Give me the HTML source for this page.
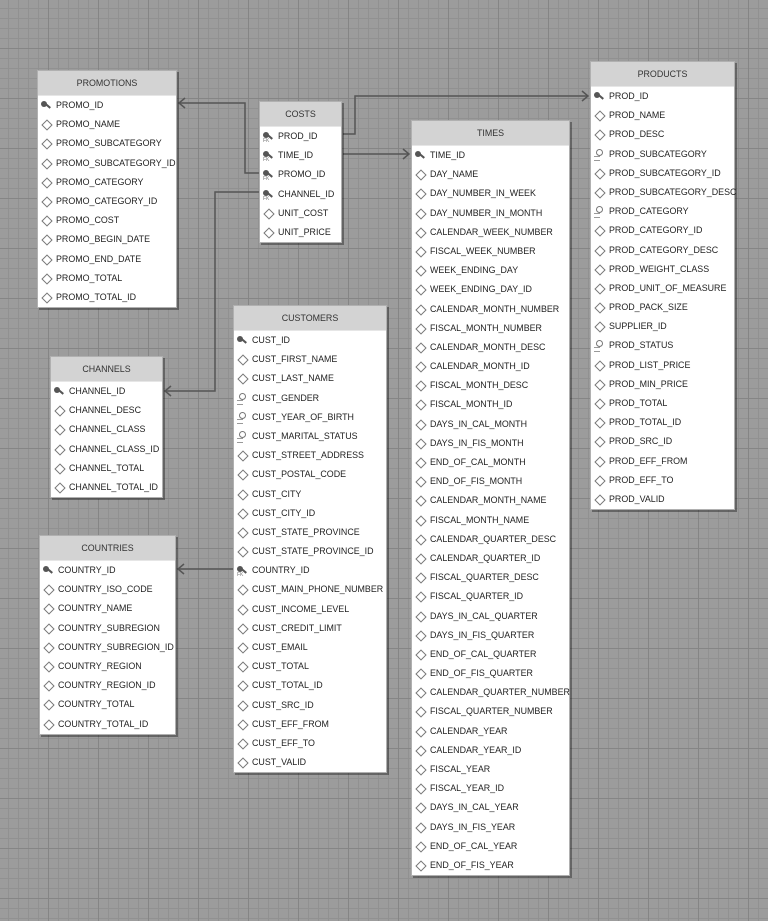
<!DOCTYPE html>
<html><head><meta charset="utf-8"><style>
html,body{margin:0;padding:0}
body{width:768px;height:921px;position:relative;overflow:hidden;background-color:#9c9c9c;
background-image:linear-gradient(#858585 1px,transparent 1px),linear-gradient(90deg,#858585 1px,transparent 1px),linear-gradient(#919191 1px,transparent 1px),linear-gradient(90deg,#919191 1px,transparent 1px);
background-size:50px 50px,50px 50px,10px 10px,10px 10px;background-position:-2px -2px}
.t{position:absolute;box-sizing:border-box;background:#fff;border:1px solid #b0b0b0;box-shadow:2px 2px 0 rgba(0,0,0,.35);font-family:"Liberation Sans",sans-serif;font-size:8.9px;color:#222}
.h{height:24px;line-height:24px;background:#d3d3d3;text-align:center;color:#333;border-bottom:1px solid #e6e6e6}
.r{height:19.2px;line-height:19.2px;position:relative;padding-left:18px;white-space:nowrap}
.d::before{content:"";position:absolute;left:5px;top:6px;width:6px;height:6px;border:1px solid #777;transform:rotate(45deg)}
.k::before,.f::before{content:"";position:absolute;left:3px;top:5px;width:6px;height:6px;border-radius:50%;background:#555}
.k::after,.f::after{content:"";position:absolute;left:7px;top:9px;width:6px;height:2px;background:#555;transform:rotate(40deg)}
.f .x{position:absolute;left:3px;top:11px;font-size:5px;color:#777;line-height:6px}
.i::before{content:"";position:absolute;left:5px;top:4px;width:5px;height:5px;border-radius:50%;border:1px solid #777}
.i::after{content:"";position:absolute;left:3px;top:11px;width:6px;height:3px;border:1px solid #999;border-width:1px 0}
</style></head><body>
<svg width="768" height="921" style="position:absolute;left:0;top:0" fill="none" stroke="#555" stroke-width="1.5">
<polyline points="343,134 355,134 355,96 588,96"/><polyline points="582,91 588,96 582,101"/>
<polyline points="343,154 409,154"/><polyline points="403,149 409,154 403,159"/>
<polyline points="259,173 245,173 245,103 179,103"/><polyline points="185,98 179,103 185,108"/>
<polyline points="259,192 215,192 215,391 165,391"/><polyline points="171,386 165,391 171,396"/>
<polyline points="233,569 178,569"/><polyline points="184,564 178,569 184,574"/>
</svg>

<div class="t" style="left:37px;top:70px;width:140px">
<div class="h">PROMOTIONS</div>
<div class="r k">PROMO_ID</div><div class="r d">PROMO_NAME</div><div class="r d">PROMO_SUBCATEGORY</div><div class="r d">PROMO_SUBCATEGORY_ID</div><div class="r d">PROMO_CATEGORY</div><div class="r d">PROMO_CATEGORY_ID</div><div class="r d">PROMO_COST</div><div class="r d">PROMO_BEGIN_DATE</div><div class="r d">PROMO_END_DATE</div><div class="r d">PROMO_TOTAL</div><div class="r d">PROMO_TOTAL_ID</div>
</div>

<div class="t" style="left:259px;top:101px;width:83px">
<div class="h">COSTS</div>
<div class="r f"><span class="x">FK</span>PROD_ID</div><div class="r f"><span class="x">FK</span>TIME_ID</div><div class="r f"><span class="x">FK</span>PROMO_ID</div><div class="r f"><span class="x">FK</span>CHANNEL_ID</div><div class="r d">UNIT_COST</div><div class="r d">UNIT_PRICE</div>
</div>

<div class="t" style="left:590px;top:61px;width:145px">
<div class="h">PRODUCTS</div>
<div class="r k">PROD_ID</div><div class="r d">PROD_NAME</div><div class="r d">PROD_DESC</div><div class="r i">PROD_SUBCATEGORY</div><div class="r d">PROD_SUBCATEGORY_ID</div><div class="r d">PROD_SUBCATEGORY_DESC</div><div class="r i">PROD_CATEGORY</div><div class="r d">PROD_CATEGORY_ID</div><div class="r d">PROD_CATEGORY_DESC</div><div class="r d">PROD_WEIGHT_CLASS</div><div class="r d">PROD_UNIT_OF_MEASURE</div><div class="r d">PROD_PACK_SIZE</div><div class="r d">SUPPLIER_ID</div><div class="r i">PROD_STATUS</div><div class="r d">PROD_LIST_PRICE</div><div class="r d">PROD_MIN_PRICE</div><div class="r d">PROD_TOTAL</div><div class="r d">PROD_TOTAL_ID</div><div class="r d">PROD_SRC_ID</div><div class="r d">PROD_EFF_FROM</div><div class="r d">PROD_EFF_TO</div><div class="r d">PROD_VALID</div>
</div>

<div class="t" style="left:411px;top:120px;width:159px">
<div class="h">TIMES</div>
<div class="r k">TIME_ID</div><div class="r d">DAY_NAME</div><div class="r d">DAY_NUMBER_IN_WEEK</div><div class="r d">DAY_NUMBER_IN_MONTH</div><div class="r d">CALENDAR_WEEK_NUMBER</div><div class="r d">FISCAL_WEEK_NUMBER</div><div class="r d">WEEK_ENDING_DAY</div><div class="r d">WEEK_ENDING_DAY_ID</div><div class="r d">CALENDAR_MONTH_NUMBER</div><div class="r d">FISCAL_MONTH_NUMBER</div><div class="r d">CALENDAR_MONTH_DESC</div><div class="r d">CALENDAR_MONTH_ID</div><div class="r d">FISCAL_MONTH_DESC</div><div class="r d">FISCAL_MONTH_ID</div><div class="r d">DAYS_IN_CAL_MONTH</div><div class="r d">DAYS_IN_FIS_MONTH</div><div class="r d">END_OF_CAL_MONTH</div><div class="r d">END_OF_FIS_MONTH</div><div class="r d">CALENDAR_MONTH_NAME</div><div class="r d">FISCAL_MONTH_NAME</div><div class="r d">CALENDAR_QUARTER_DESC</div><div class="r d">CALENDAR_QUARTER_ID</div><div class="r d">FISCAL_QUARTER_DESC</div><div class="r d">FISCAL_QUARTER_ID</div><div class="r d">DAYS_IN_CAL_QUARTER</div><div class="r d">DAYS_IN_FIS_QUARTER</div><div class="r d">END_OF_CAL_QUARTER</div><div class="r d">END_OF_FIS_QUARTER</div><div class="r d">CALENDAR_QUARTER_NUMBER</div><div class="r d">FISCAL_QUARTER_NUMBER</div><div class="r d">CALENDAR_YEAR</div><div class="r d">CALENDAR_YEAR_ID</div><div class="r d">FISCAL_YEAR</div><div class="r d">FISCAL_YEAR_ID</div><div class="r d">DAYS_IN_CAL_YEAR</div><div class="r d">DAYS_IN_FIS_YEAR</div><div class="r d">END_OF_CAL_YEAR</div><div class="r d">END_OF_FIS_YEAR</div>
</div>

<div class="t" style="left:233px;top:305px;width:154px">
<div class="h">CUSTOMERS</div>
<div class="r k">CUST_ID</div><div class="r d">CUST_FIRST_NAME</div><div class="r d">CUST_LAST_NAME</div><div class="r i">CUST_GENDER</div><div class="r i">CUST_YEAR_OF_BIRTH</div><div class="r i">CUST_MARITAL_STATUS</div><div class="r d">CUST_STREET_ADDRESS</div><div class="r d">CUST_POSTAL_CODE</div><div class="r d">CUST_CITY</div><div class="r d">CUST_CITY_ID</div><div class="r d">CUST_STATE_PROVINCE</div><div class="r d">CUST_STATE_PROVINCE_ID</div><div class="r f"><span class="x">FK</span>COUNTRY_ID</div><div class="r d">CUST_MAIN_PHONE_NUMBER</div><div class="r d">CUST_INCOME_LEVEL</div><div class="r d">CUST_CREDIT_LIMIT</div><div class="r d">CUST_EMAIL</div><div class="r d">CUST_TOTAL</div><div class="r d">CUST_TOTAL_ID</div><div class="r d">CUST_SRC_ID</div><div class="r d">CUST_EFF_FROM</div><div class="r d">CUST_EFF_TO</div><div class="r d">CUST_VALID</div>
</div>

<div class="t" style="left:50px;top:356px;width:113px">
<div class="h">CHANNELS</div>
<div class="r k">CHANNEL_ID</div><div class="r d">CHANNEL_DESC</div><div class="r d">CHANNEL_CLASS</div><div class="r d">CHANNEL_CLASS_ID</div><div class="r d">CHANNEL_TOTAL</div><div class="r d">CHANNEL_TOTAL_ID</div>
</div>

<div class="t" style="left:39px;top:535px;width:137px">
<div class="h">COUNTRIES</div>
<div class="r k">COUNTRY_ID</div><div class="r d">COUNTRY_ISO_CODE</div><div class="r d">COUNTRY_NAME</div><div class="r d">COUNTRY_SUBREGION</div><div class="r d">COUNTRY_SUBREGION_ID</div><div class="r d">COUNTRY_REGION</div><div class="r d">COUNTRY_REGION_ID</div><div class="r d">COUNTRY_TOTAL</div><div class="r d">COUNTRY_TOTAL_ID</div>
</div>
</body></html>
